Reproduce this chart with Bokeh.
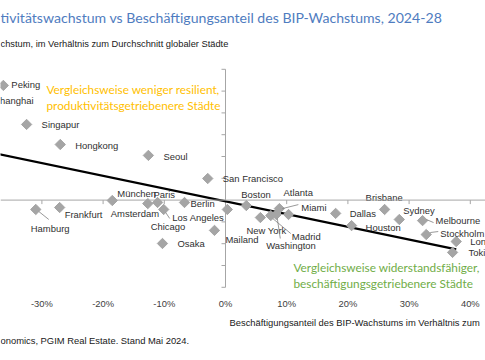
import numpy as np
from bokeh.plotting import figure
from bokeh.models import Range1d, ColumnDataSource, Span
from bokeh.core.properties import value
from bokeh.embed import file_html
from bokeh.resources import INLINE

# ---------------- data ----------------
cities = ["Peking", "Shanghai", "Singapur", "Hongkong", "Seoul", "San Francisco",
          "München", "Amsterdam", "Paris", "Chicago", "Berlin", "Osaka", "Hamburg",
          "Frankfurt", "Los Angeles", "Mailand", "Boston", "New York", "Madrid",
          "Washington", "Atlanta", "Miami", "Dallas", "Houston", "Brisbane", "Sydney",
          "Melbourne", "Stockholm", "London", "Tokio"]
# Beschäftigungsanteil des BIP-Wachstums relativ zum Durchschnitt (%)
emp_share = [-36.3, -39.2, -32.5, -27.0, -12.6, -2.9,
             -18.5, -12.7, -11.1, -10.1, -6.7, -10.3, -31.0,
             -27.1, 0.3, -1.8, 3.4, 5.7, 7.4,
             8.3, 10.3, 8.8, 18.0, 20.6, 26.0, 28.4,
             32.2, 32.8, 37.7, 37.1]
# Produktivitätswachstum relativ zum Durchschnitt (Achseneinheiten)
prod_growth = [5.26, 4.57, 3.47, 2.55, 2.05, 0.99,
               -0.02, -0.16, -0.11, -0.43, -0.11, -1.99, -0.43,
               -0.34, -0.43, -1.39, -0.25, -0.80, -0.71,
               -0.66, -0.66, -0.39, -0.61, -1.17, -0.43, -0.89,
               -0.94, -1.58, -1.90, -2.40]

trend_x = [-40.0, 37.7]
trend_y = [2.28, -2.26]

x_ticks = [-30, -20, -10, 0, 10, 20, 30, 40]
x_tick_labels = ["-30%", "-20%", "-10%", "0%", "10%", "20%", "30%", "40%"]
y_ticks = [-4, -3, -2, -1, 0, 1, 2, 3, 4, 5, 6]

title = "tivitätswachstum vs Beschäftigungsanteil des BIP-Wachstums, 2024-28"
subtitle = "chstum, im Verhältnis zum Durchschnitt globaler Städte"
x_title = "Beschäftigungsanteil des BIP-Wachstums im Verhältnis zum"
source = "onomics, PGIM Real Estate. Stand Mai 2024."
note_top = ["Vergleichsweise weniger resilient,", "produktivitätsgetriebenere Städte"]
note_bottom = ["Vergleichsweise widerstandsfähiger,", "beschäftigungsgetriebenere Städte"]

# ---------------- layout ----------------
W, H = 485, 360
PXX = 6.12          # px per 1 % (x)
PXY = 21.8          # px per y unit
X0, Y0 = 225.0, 199.6


def rx(X):
    return (X - X0) / PXX


def ry(Y):
    return (Y0 - Y) / PXY


p = figure(width=W, height=H, output_backend="svg", toolbar_location=None,
           x_range=Range1d(rx(0), rx(W)), y_range=Range1d(ry(H), ry(0)),
           x_axis_location=None, y_axis_location=None, min_border=0,
           background_fill_color="white", border_fill_color="white")
p.outline_line_color = None
p.grid.visible = False

AX = "#A6A6A6"
TXT = "#303030"
FONT = value("Liberation Sans")
CAL = value("Lato")

# axes crossing at 0
p.add_layout(Span(location=0, dimension="width", line_color=AX, line_width=1))
p.segment(x0=[0], y0=[y_ticks[0]], x1=[0], y1=[y_ticks[-1]], line_color=AX, line_width=1)
p.segment(x0=[-4 / PXX] * len(y_ticks), y0=y_ticks, x1=[0] * len(y_ticks), y1=y_ticks,
          line_color=AX, line_width=1)
p.segment(x0=x_ticks, y0=[0] * len(x_ticks), x1=x_ticks, y1=[-4 / PXY] * len(x_ticks),
          line_color=AX, line_width=1)
p.text(x=x_ticks, y=[ry(303)] * len(x_ticks), text=x_tick_labels, text_align="center",
       text_baseline="middle", text_font=FONT, text_font_size=value("9.4px"),
       text_color="#404040")

# trend line
p.line(trend_x, trend_y, line_color="black", line_width=2.2)

# markers
src = ColumnDataSource(dict(x=emp_share, y=prod_growth, name=cities))
p.scatter("x", "y", source=src, marker="square", angle=np.pi / 4, size=7.3,
          fill_color="#A5A5A5", line_color="#A5A5A5")

# label offsets (px from marker centre to text left / middle)
offs = {
    "Peking": (8, -1), "Shanghai": (8, 0), "Singapur": (15, 0), "Hongkong": (15, 1),
    "Seoul": (15, 1), "San Francisco": (15, 0), "München": (5, -7), "Amsterdam": (-37, 10),
    "Paris": (-4, -8), "Chicago": (-13, 17), "Berlin": (6, 1), "Osaka": (15, 0),
    "Hamburg": (-5, 19), "Frankfurt": (5, 7), "Los Angeles": (-55, 8), "Mailand": (11, 9),
    "Boston": (-5, -11), "New York": (-14, 13), "Madrid": (21, 21), "Washington": (-10, 31),
    "Atlanta": (-5, -22), "Miami": (22, -1), "Dallas": (14, 0), "Houston": (14, 2),
    "Brisbane": (-19, -12), "Sydney": (4, -9), "Melbourne": (13, 0), "Stockholm": (14, -1),
    "London": (14, 0), "Tokio": (16, 0),
}
lx = [x + offs[c][0] / PXX for c, x in zip(cities, emp_share)]
ly = [y - offs[c][1] / PXY for c, y in zip(cities, prod_growth)]
p.text(x=lx, y=ly, text=cities, text_align="left", text_baseline="middle",
       text_font=FONT, text_font_size=value("9.45px"), text_color=TXT)

# leader lines (px, relative to marker)
leaders = {
    "Hamburg": (3, 2, 13, 10), "Chicago": (2, 3, 6, 9), "Melbourne": (4, -1, 11, 2),
    "Stockholm": (4, -2, 12, -3), "Madrid": (2, 3, 20, 18), "Washington": (1, 4, 4, 24),
    "Miami": (3, 0, 19, -4),
}
lead_x0, lead_y0, lead_x1, lead_y1 = [], [], [], []
for c, (a, b, cc, d) in leaders.items():
    i = cities.index(c)
    lead_x0.append(emp_share[i] + a / PXX)
    lead_y0.append(prod_growth[i] - b / PXY)
    lead_x1.append(emp_share[i] + cc / PXX)
    lead_y1.append(prod_growth[i] - d / PXY)
p.segment(x0=lead_x0, y0=lead_y0, x1=lead_x1, y1=lead_y1, line_color="#7F7F7F", line_width=0.8)

# annotations
p.text(x=[rx(46)] * 2, y=[ry(89), ry(105)], text=note_top, text_align="left",
       text_baseline="middle", text_font=CAL, text_font_size=value("11.8px"), text_color="#FFC000")
p.text(x=[rx(293)] * 2, y=[ry(267), ry(283)], text=note_bottom, text_align="left",
       text_baseline="middle", text_font=CAL, text_font_size=value("11.8px"), text_color="#70AD47")

# titles and source
p.text(x=[rx(0)], y=[ry(17)], text=[title], text_align="left", text_baseline="middle",
       text_font=CAL, text_font_size=value("14.1px"), text_color="#4F7CC0")
p.text(x=[rx(0)], y=[ry(43)], text=[subtitle], text_align="left", text_baseline="middle",
       text_font=FONT, text_font_size=value("9.3px"), text_color="#202020")
p.text(x=[rx(229)], y=[ry(322)], text=[x_title], text_align="left", text_baseline="middle",
       text_font=FONT, text_font_size=value("9.4px"), text_color="#202020")
p.text(x=[rx(0)], y=[ry(340)], text=[source], text_align="left", text_baseline="middle",
       text_font=FONT, text_font_size=value("9.4px"), text_color="#202020")

open("out.html", "w").write(file_html(p, INLINE))
